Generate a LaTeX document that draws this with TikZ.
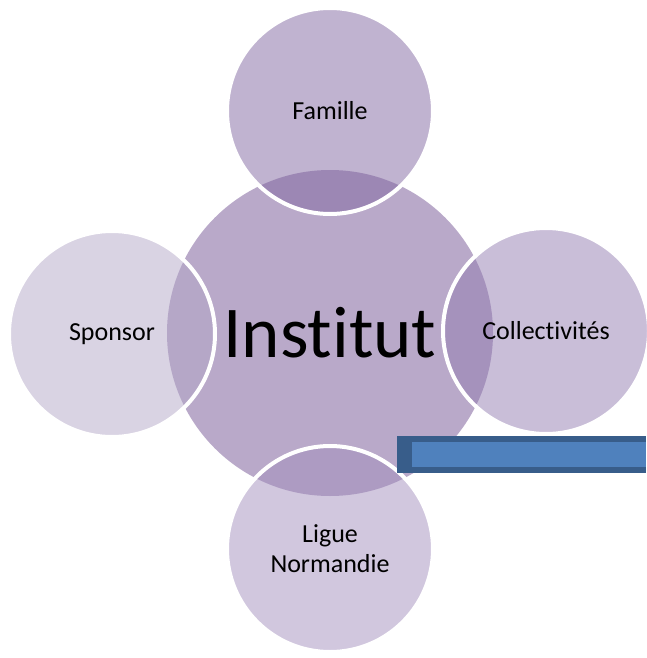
\documentclass[tikz,border=0pt]{standalone}
\usepackage{fontspec}
\setmainfont{Carlito}[Ligatures=NoCommon]
\definecolor{hubfill}{RGB}{185,169,201}
\definecolor{famfill}{RGB}{129,103,161}
\definecolor{colfill}{RGB}{147,125,177}
\definecolor{liguefill}{RGB}{163,143,189}
\definecolor{sponsfill}{RGB}{179,167,199}
\definecolor{barborder}{RGB}{56,93,138}
\definecolor{barfill}{RGB}{79,129,189}

\begin{document}
\begin{tikzpicture}[x=1pt,y=-1pt,
  hub node/.style={circle,fill=hubfill,minimum size=326pt,inner sep=0pt,font=\fontsize{73}{80}\selectfont},
  spoke node/.style={circle,draw=white,line width=4pt,fill opacity=0.5,text opacity=1,draw opacity=1,
    minimum size=206pt,inner sep=0pt,align=center,font=\fontsize{26}{30}\selectfont}]

  \useasboundingbox (0,0) rectangle (646,658);

  \node[hub node] (institut) at (330,333) {Institut};

  \node[spoke node,fill=famfill] (famille) at (330,111) {Famille};
  \node[spoke node,fill=colfill] (collect) at (546,331) {Collectivités};
  \node[spoke node,fill=liguefill] (ligue) at (330,549) {Ligue\\Normandie};
  \node[spoke node,fill=sponsfill] (sponsor) at (112,334) {Sponsor};

  % blue bar
  \fill[barborder] (397,436) rectangle (646,473);
  \fill[barfill] (412,442) rectangle (646,467);
\end{tikzpicture}
\end{document}
